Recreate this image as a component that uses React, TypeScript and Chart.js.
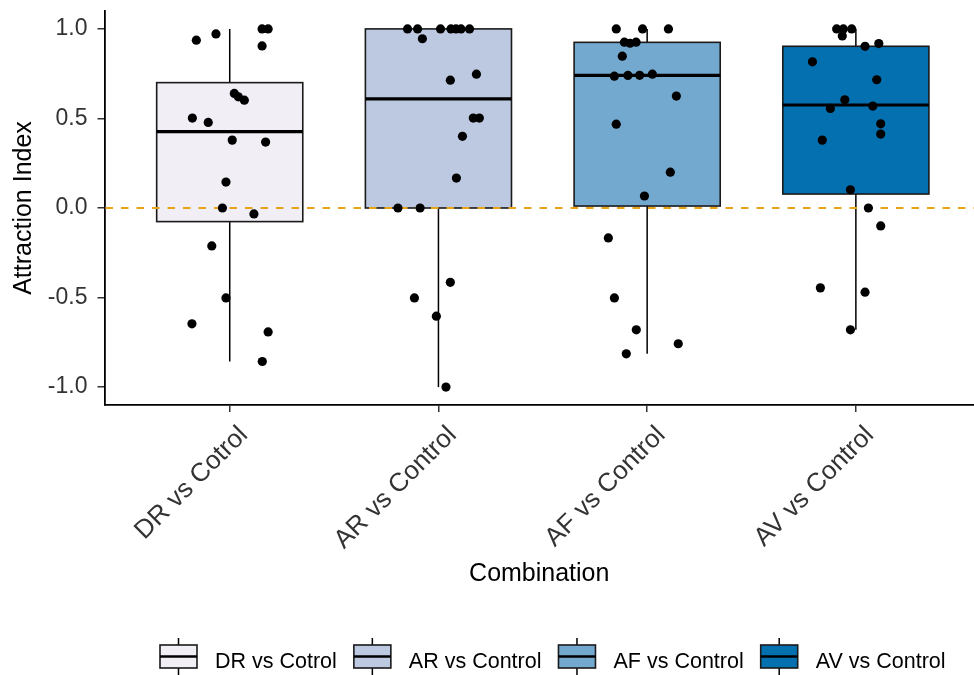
import React, { useEffect, useRef } from "react";
import { Chart, registerables } from "chart.js";

Chart.register(...registerables);

// ---------- data ----------
const categories = ["DR vs Cotrol", "AR vs Control", "AF vs Control", "AV vs Control"];
const fillColors = ["#F1EEF6", "#BDC9E1", "#74A9CF", "#0570B0"];
const yTicks = [-1, -0.5, 0, 0.5, 1];

// box statistics
const q1 = [-0.076, 0.0, 0.011, 0.078];
const medians = [0.427, 0.609, 0.741, 0.575];
const q3 = [0.7, 1.0, 0.925, 0.903];
const whiskerLow = [-0.857, -1.0, -0.814, -0.68];
const whiskerHigh = [1.0, 1.0, 1.0, 1.0];

// jittered observations (value, horizontal jitter in category units)
const drValues = [0.937, 0.972, 1.0, 1.0, 0.905, 0.64, 0.621, 0.602, 0.502, 0.478, 0.379, 0.368, 0.145, 0.0, -0.033, -0.212, -0.502, -0.647, -0.692, -0.857];
const drJitter = [-0.16, -0.066, 0.155, 0.184, 0.155, 0.022, 0.041, 0.07, -0.179, -0.103, 0.012, 0.172, -0.018, -0.035, 0.116, -0.086, -0.018, -0.181, 0.184, 0.156];

const arValues = [1.0, 1.0, 1.0, 1.0, 1.0, 1.0, 1.0, 0.945, 0.714, 0.747, 0.502, 0.502, 0.4, 0.167, 0.0, 0.0, -0.415, -0.502, -0.604, -1.0];
const arJitter = [-0.148, -0.1, 0.01, 0.06, 0.084, 0.108, 0.149, -0.077, 0.057, 0.182, 0.167, 0.196, 0.115, 0.086, -0.194, -0.088, 0.057, -0.115, -0.01, 0.036];

const afValues = [1.0, 1.0, 1.0, 0.926, 0.926, 0.92, 0.848, 0.736, 0.741, 0.747, 0.74, 0.625, 0.468, 0.2, 0.067, -0.167, -0.502, -0.68, -0.758, -0.814];
const afJitter = [-0.148, -0.022, 0.102, -0.109, -0.053, -0.082, -0.119, -0.157, -0.036, 0.025, -0.092, 0.14, -0.148, 0.111, -0.013, -0.186, -0.157, -0.052, 0.149, -0.1];

const avValues = [1.0, 1.0, 1.0, 0.961, 0.903, 0.918, 0.816, 0.716, 0.604, 0.556, 0.569, 0.47, 0.413, 0.379, 0.102, 0.0, -0.1, -0.446, -0.47, -0.68];
const avJitter = [-0.092, -0.06, -0.02, -0.065, 0.044, 0.11, -0.208, 0.1, -0.053, -0.122, 0.081, 0.119, 0.119, -0.161, -0.026, 0.06, 0.119, -0.17, 0.044, -0.026];

const groupValues = [drValues, arValues, afValues, avValues];
const groupJitter = [drJitter, arJitter, afJitter, avJitter];

const refLine = 0;

// ---------- styling ----------
const FONT = "'Liberation Sans', Arial, Helvetica, sans-serif";
const BOX_HALF = 0.35;

const boxPlugin = {
  id: "boxplotLayer",
  beforeDatasetsDraw(chart: any) {
    const { ctx, chartArea } = chart;
    const x = chart.scales.x;
    const y = chart.scales.y;
    ctx.save();
    categories.forEach((_, i) => {
      const xc = x.getPixelForValue(i);
      const xl = x.getPixelForValue(i - BOX_HALF);
      const xr = x.getPixelForValue(i + BOX_HALF);
      const yTop = y.getPixelForValue(q3[i]);
      const yBot = y.getPixelForValue(q1[i]);
      // whiskers
      ctx.strokeStyle = "#000";
      ctx.lineWidth = 1.5;
      ctx.beginPath();
      ctx.moveTo(xc, yTop);
      ctx.lineTo(xc, y.getPixelForValue(whiskerHigh[i]));
      ctx.moveTo(xc, yBot);
      ctx.lineTo(xc, y.getPixelForValue(whiskerLow[i]));
      ctx.stroke();
      // box
      ctx.fillStyle = fillColors[i];
      ctx.fillRect(xl, yTop, xr - xl, yBot - yTop);
      ctx.lineWidth = 1.6;
      ctx.strokeStyle = "#1a1a1a";
      ctx.strokeRect(xl, yTop, xr - xl, yBot - yTop);
      // median
      const ym = y.getPixelForValue(medians[i]);
      ctx.lineWidth = 3.2;
      ctx.strokeStyle = "#000";
      ctx.beginPath();
      ctx.moveTo(xl, ym);
      ctx.lineTo(xr, ym);
      ctx.stroke();
    });
    // dashed reference line
    const yz = y.getPixelForValue(refLine);
    ctx.setLineDash([7.5, 8]);
    ctx.strokeStyle = "#E8A317";
    ctx.lineWidth = 1.8;
    ctx.beginPath();
    ctx.moveTo(chartArea.left + 1, yz);
    ctx.lineTo(chartArea.right, yz);
    ctx.stroke();
    ctx.restore();
  },
  afterDraw(chart: any) {
    const { ctx } = chart;
    ctx.save();
    ctx.font = `21.5px ${FONT}`;
    ctx.textBaseline = "alphabetic";
    ctx.textAlign = "left";
    let xPos = 160;
    const keyW = 37;
    const boxTop = 645;
    const boxBot = 668;
    categories.forEach((label, i) => {
      const xc = xPos + keyW / 2;
      ctx.strokeStyle = "#000";
      ctx.lineWidth = 1.5;
      ctx.beginPath();
      ctx.moveTo(xc, 638);
      ctx.lineTo(xc, boxTop);
      ctx.moveTo(xc, boxBot);
      ctx.lineTo(xc, 676);
      ctx.stroke();
      ctx.fillStyle = fillColors[i];
      ctx.fillRect(xPos, boxTop, keyW, boxBot - boxTop);
      ctx.lineWidth = 1.6;
      ctx.strokeStyle = "#1a1a1a";
      ctx.strokeRect(xPos, boxTop, keyW, boxBot - boxTop);
      ctx.lineWidth = 2.6;
      ctx.strokeStyle = "#000";
      ctx.beginPath();
      ctx.moveTo(xPos, (boxTop + boxBot) / 2);
      ctx.lineTo(xPos + keyW, (boxTop + boxBot) / 2);
      ctx.stroke();
      const tx = xPos + keyW + 18;
      ctx.fillStyle = "#000";
      ctx.fillText(label, tx, 668);
      xPos = tx + ctx.measureText(label).width + 17;
    });
    ctx.restore();
  },
};

export default function App() {
  const canvasRef = useRef<HTMLCanvasElement | null>(null);

  useEffect(() => {
    if (!canvasRef.current) return;
    const datasets = groupValues.map((vals, i) => ({
      label: categories[i],
      data: vals.map((v, k) => ({ x: i + groupJitter[i][k], y: v })),
      backgroundColor: "#000",
      borderColor: "#000",
      borderWidth: 0,
      pointRadius: 4.6,
      pointHoverRadius: 4.6,
      showLine: false,
    }));

    const chart = new Chart(canvasRef.current, {
      type: "scatter",
      data: { datasets },
      plugins: [boxPlugin],
      options: {
        animation: false,
        responsive: false,
        devicePixelRatio: 1,
        layout: { autoPadding: false, padding: { top: 11, left: 0, right: 0, bottom: 0 } },
        plugins: {
          legend: { display: false },
          tooltip: { enabled: false },
        },
        scales: {
          x: {
            type: "linear",
            min: -0.6,
            max: 3.566,
            afterBuildTicks: (axis: any) => {
              axis.ticks = categories.map((_, i) => ({ value: i }));
            },
            afterFit: (axis: any) => {
              axis.height = 270;
              axis.paddingLeft = 0;
              axis.paddingRight = 0;
            },
            ticks: {
              autoSkip: false,
              minRotation: 45,
              maxRotation: 45,
              labelOffset: 14,
              padding: 8,
              color: "#333",
              font: { family: FONT, size: 26 },
              callback: (v: any) => categories[Math.round(Number(v))] ?? "",
            },
            grid: {
              display: true,
              drawOnChartArea: false,
              drawTicks: true,
              tickLength: 7,
              color: "#333",
              lineWidth: 1.5,
            },
            border: { display: true, color: "#000", width: 1.8 },
            title: {
              display: true,
              text: "Combination",
              color: "#000",
              font: { family: FONT, size: 25 },
              padding: { top: 0, bottom: 86 },
            },
          },
          y: {
            type: "linear",
            min: -1.1,
            max: 1.1,
            afterBuildTicks: (axis: any) => {
              axis.ticks = yTicks.map((v) => ({ value: v }));
            },
            afterFit: (axis: any) => {
              axis.width = 104.5;
              axis.paddingTop = 0;
              axis.paddingBottom = 0;
            },
            ticks: {
              padding: 10,
              color: "#333",
              font: { family: FONT, size: 23 },
              callback: (v: any) => Number(v).toFixed(1),
            },
            grid: {
              display: true,
              drawOnChartArea: false,
              drawTicks: true,
              tickLength: 7,
              color: "#333",
              lineWidth: 1.5,
            },
            border: { display: true, color: "#000", width: 1.8 },
            title: {
              display: true,
              text: "Attraction Index",
              color: "#000",
              font: { family: FONT, size: 25 },
              padding: { top: 9, bottom: 0 },
            },
          },
        },
      } as any,
    });
    return () => chart.destroy();
  }, []);

  return (
    <div style={{ position: "absolute", left: 0, top: 0, width: 974, height: 675 }}>
      <canvas ref={canvasRef} width={974} height={675} style={{ display: "block" }} />
    </div>
  );
}
